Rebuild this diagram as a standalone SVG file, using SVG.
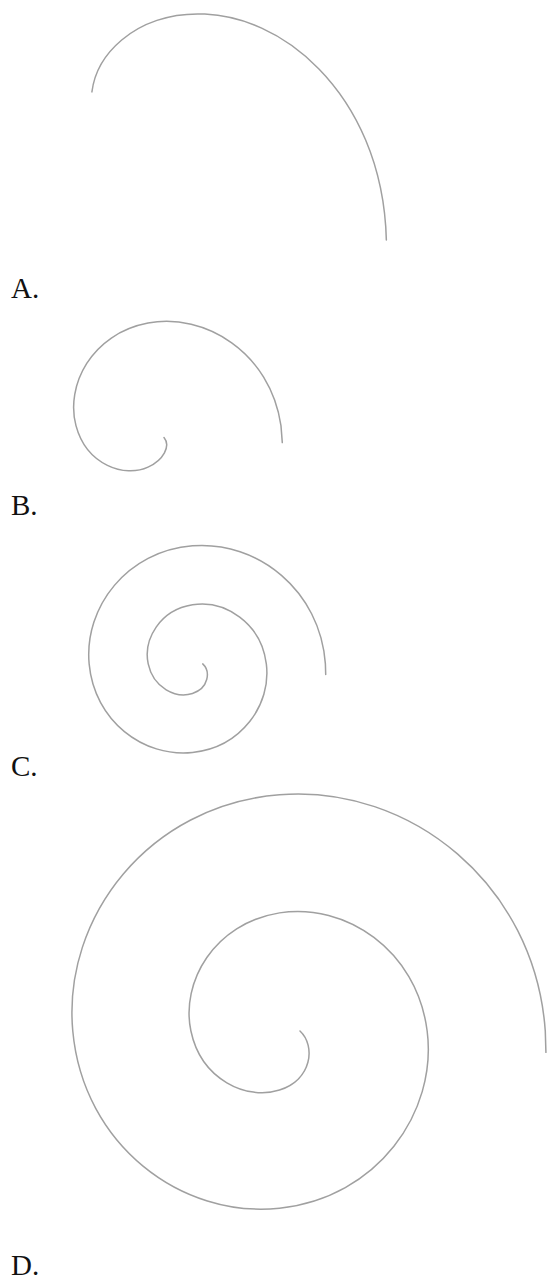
<svg xmlns="http://www.w3.org/2000/svg" width="547" height="1281" viewBox="0 0 547 1281">
<style>
.sp{fill:none;stroke:#a0a0a0;stroke-width:1.5;stroke-linecap:round;stroke-linejoin:round}
.lb{font-family:"Liberation Serif","Times New Roman",serif;font-size:29px;fill:#111}
</style>
<rect width="547" height="1281" fill="#ffffff"/>
<g id="optionA">
<path class="sp" d="M91.92,91.88 C94.01,74.97 102.76,55.89 121.72,39.95 C140.68,24.01 168.86,12.33 204.83,14.11 C240.8,15.89 282.4,31.41 318.94,68.9 C355.48,106.39 384.49,163.9 386.35,240"/>
<text class="lb" x="11" y="298">A.</text>
</g>
<g id="optionB">
<path class="sp" d="M164,437.5 C171,446 163.5,459.95 148,467.15 C125.05,477.86 86.69,465.38 75.98,425.6 C65.27,385.82 91.4,333.82 148,323.11 C204.6,312.4 270.26,352.16 280.97,425.6 L282.3,442.6"/>
<text class="lb" x="11" y="515">B.</text>
</g>
<g id="optionC">
<path class="sp" d="M202.75,663.9 C210.75,671.4 208.7,688.3 192.5,693.43 C176.19,698.62 153.4,688.37 148.21,663.9 C143.02,639.44 159.88,610.03 192.5,604.84 C225.12,599.65 261.14,623.13 266.33,663.9 C271.52,704.68 241.43,747.31 192.5,752.5 C143.57,757.69 94.33,720.99 89.14,663.9 C83.95,606.82 127.26,550.97 192.5,545.78 C257.74,540.59 320.2,590.51 325.39,663.9 L325.71,674.58"/>
<text class="lb" x="11" y="776">C.</text>
</g>
<g id="optionD">
<path class="sp" d="M300,1031 C316,1046 311.9,1079.8 279.5,1090.06 C246.88,1100.44 201.29,1079.93 190.91,1031 C180.53,982.07 214.26,923.26 279.5,912.88 C344.74,902.5 416.78,949.45 427.16,1031 C437.54,1112.55 377.36,1197.81 279.5,1208.19 C181.64,1218.57 83.16,1145.17 72.78,1031 C62.4,916.83 149.02,805.13 279.5,794.75 C409.98,784.37 534.9,884.21 545.28,1031 L545.92,1052.36"/>
<text class="lb" x="11" y="1275">D.</text>
</g>
</svg>
